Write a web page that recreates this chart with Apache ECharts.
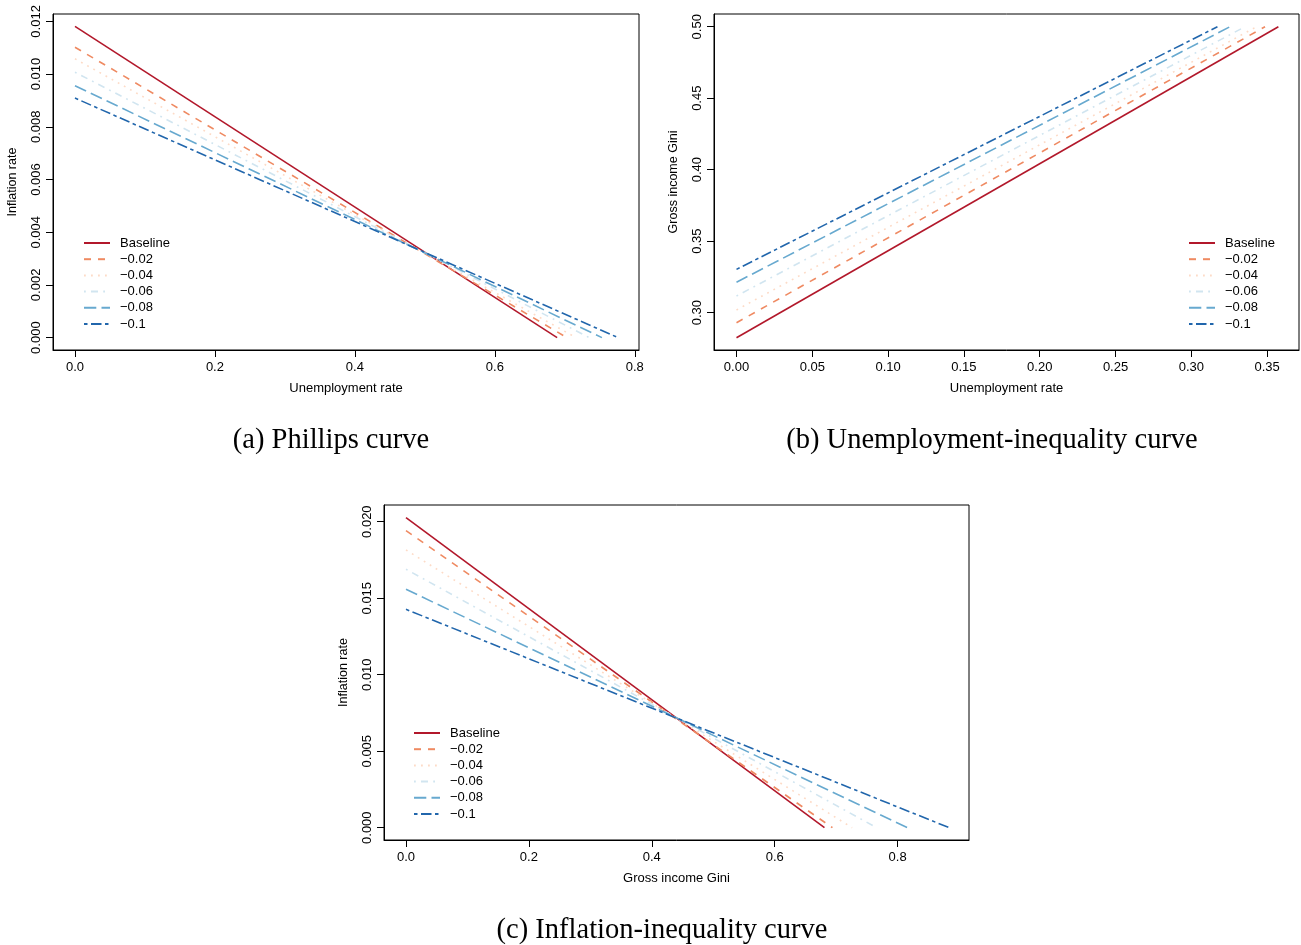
<!DOCTYPE html>
<html>
<head>
<meta charset="utf-8">
<script src="https://cdn.jsdelivr.net/npm/echarts@6/dist/echarts.min.js"></script>
<style>
html,body{margin:0;padding:0;background:#fff;}
#chart{width:1301px;height:945px;}
</style>
</head>
<body>
<div id="chart"></div>
<script>
// ---- Data ----
const seriesNames = ['Baseline', '\u22120.02', '\u22120.04', '\u22120.06', '\u22120.08', '\u22120.1'];

// (a) Phillips curve: each line runs from (0, start inflation) to (end unemployment, 0)
const phillipsStartUnemployment = [0, 0, 0, 0, 0, 0];
const phillipsStartInflation = [0.01181, 0.01102, 0.01058, 0.01007, 0.00956, 0.00909];
const phillipsEndUnemployment = [0.689, 0.703, 0.716, 0.735, 0.753, 0.776];
const phillipsEndInflation = [0, 0, 0, 0, 0, 0];

// (b) Unemployment-inequality curve: from (0, start Gini) to (end unemployment, 0.50)
const ugStartUnemployment = [0, 0, 0, 0, 0, 0];
const ugStartGini = [0.2825, 0.2930, 0.3019, 0.3117, 0.3213, 0.3303];
const ugEndUnemployment = [0.3574, 0.3486, 0.3430, 0.3354, 0.3255, 0.3172];
const ugEndGini = [0.50, 0.50, 0.50, 0.50, 0.50, 0.50];

// (c) Inflation-inequality curve: from (0, start inflation) to (end Gini, 0)
const iiStartGini = [0, 0, 0, 0, 0, 0];
const iiStartInflation = [0.02026, 0.01941, 0.01815, 0.01689, 0.01558, 0.01427];
const iiEndGini = [0.681, 0.694, 0.726, 0.766, 0.816, 0.884];
const iiEndInflation = [0, 0, 0, 0, 0, 0];

// Tick labels
const aXTicks = [0, 0.2, 0.4, 0.6, 0.8];
const aYTicks = [0, 0.002, 0.004, 0.006, 0.008, 0.010, 0.012];
const bXTicks = [0, 0.05, 0.10, 0.15, 0.20, 0.25, 0.30, 0.35];
const bYTicks = [0.30, 0.35, 0.40, 0.45, 0.50];
const cXTicks = [0, 0.2, 0.4, 0.6, 0.8];
const cYTicks = [0, 0.005, 0.010, 0.015, 0.020];

const captions = ['(a) Phillips curve', '(b) Unemployment-inequality curve', '(c) Inflation-inequality curve'];

// ---- Styles ----
const colors = ['#B2182B', '#EF8A62', '#FDDBC7', '#D1E5F0', '#67A9CF', '#2166AC'];
const dashes = ['solid', [7, 7], [1.8, 5.2], [1.8, 5.2, 7, 5.2], [12.3, 5.2], [3.5, 3.5, 10.5, 3.5]];
const FONT = 'Liberation Sans';
const SERIF = 'Liberation Serif';

function xAxis(g, min, max, ticks, digits, name) {
  return {
    type: 'value', gridIndex: g, min: min, max: max,
    name: name, nameLocation: 'middle', nameGap: 32,
    nameTextStyle: {fontFamily: FONT, fontSize: 13, color: '#000'},
    axisLine: {show: true, onZero: false, lineStyle: {color: '#000', width: 1}},
    splitLine: {show: false},
    axisTick: {show: true, length: 7, customValues: ticks, lineStyle: {color: '#000', width: 1}},
    axisLabel: {customValues: ticks, margin: 11, fontFamily: FONT, fontSize: 13, color: '#000',
      formatter: v => Number(v).toFixed(digits)}
  };
}
function yAxis(g, min, max, ticks, digits, name) {
  return {
    type: 'value', gridIndex: g, min: min, max: max,
    name: name, nameLocation: 'middle', nameGap: 34, nameRotate: 90,
    nameTextStyle: {fontFamily: FONT, fontSize: 12.5, color: '#000'},
    axisLine: {show: true, onZero: false, lineStyle: {color: '#000', width: 1}},
    splitLine: {show: false},
    axisTick: {show: true, length: 7, customValues: ticks, lineStyle: {color: '#000', width: 1}},
    axisLabel: {customValues: ticks, rotate: 90, margin: 10, fontFamily: FONT, fontSize: 13, color: '#000',
      formatter: v => Number(v).toFixed(digits)}
  };
}

const series = [];
function addPanel(idx, x0, y0, x1, y1) {
  for (let i = 0; i < seriesNames.length; i++) {
    series.push({
      type: 'line', name: seriesNames[i], xAxisIndex: idx, yAxisIndex: idx,
      data: [[x0[i], y0[i]], [x1[i], y1[i]]],
      symbol: 'none',
      lineStyle: {color: colors[i], width: 1.6, type: dashes[i]},
      itemStyle: {color: colors[i]}
    });
  }
}
addPanel(0, phillipsStartUnemployment, phillipsStartInflation, phillipsEndUnemployment, phillipsEndInflation);
addPanel(1, ugStartUnemployment, ugStartGini, ugEndUnemployment, ugEndGini);
addPanel(2, iiStartGini, iiStartInflation, iiEndGini, iiEndInflation);

function legend(left, top) {
  return {
    data: seriesNames, orient: 'vertical', left: left, top: top,
    itemWidth: 26, itemHeight: 14, itemGap: 2.2,
    selectedMode: false,
    itemStyle: {color: 'rgba(0,0,0,0)', borderColor: 'rgba(0,0,0,0)', borderWidth: 0},
    textStyle: {fontFamily: FONT, fontSize: 13, color: '#000', padding: [0, 0, 0, 5], lineHeight: 14}
  };
}

const capStyle = {fontFamily: SERIF, fontSize: 28.5, fontWeight: 'normal', color: '#000'};
const option = {
  animation: false,
  title: [
    {text: captions[0], left: 326, top: 421, textAlign: 'center', textStyle: capStyle},
    {text: captions[1], left: 987, top: 421, textAlign: 'center', textStyle: capStyle},
    {text: captions[2], left: 657, top: 911, textAlign: 'center', textStyle: capStyle}
  ],
  grid: [
    {left: 53, top: 14, width: 586, height: 336, show: true, borderColor: '#000'},
    {left: 714, top: 14, width: 585, height: 336, show: true, borderColor: '#000'},
    {left: 384, top: 505, width: 585, height: 335, show: true, borderColor: '#000'}
  ],
  xAxis: [
    xAxis(0, -0.0314, 0.806, aXTicks, 1, 'Unemployment rate'),
    xAxis(1, -0.01484, 0.3710, bXTicks, 2, 'Unemployment rate'),
    xAxis(2, -0.0358, 0.9162, cXTicks, 1, 'Gross income Gini')
  ],
  yAxis: [
    yAxis(0, -0.00047, 0.01228, aYTicks, 3, 'Inflation rate'),
    yAxis(1, 0.2739, 0.5089, bYTicks, 2, 'Gross income Gini'),
    yAxis(2, -0.000804, 0.02109, cYTicks, 3, 'Inflation rate')
  ],
  legend: [legend(78, 231), legend(1183, 231), legend(408, 721)],
  series: series
};

const chart = echarts.init(document.getElementById('chart'));
chart.setOption(option);
</script>
</body>
</html>
